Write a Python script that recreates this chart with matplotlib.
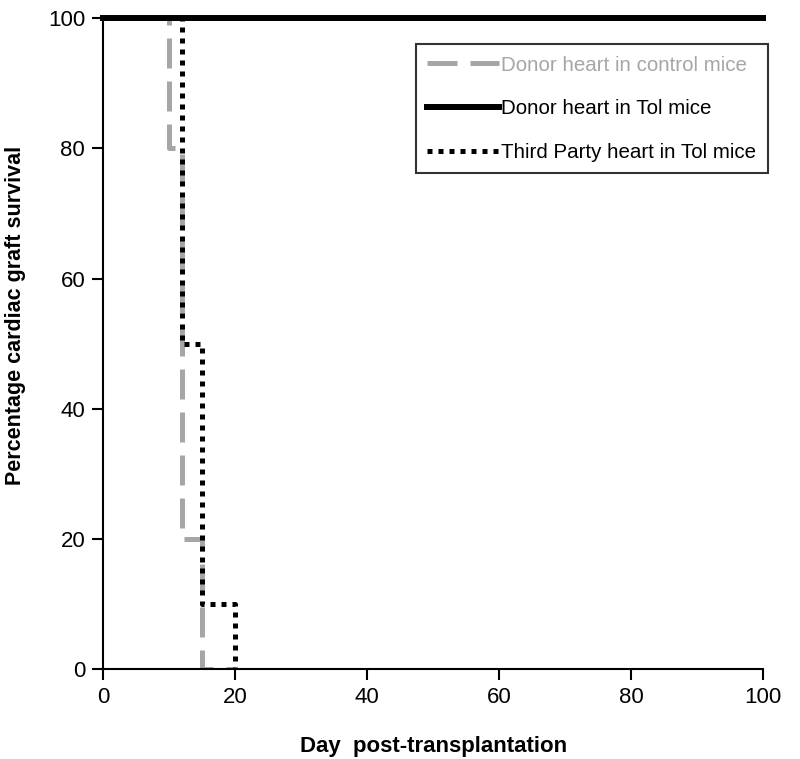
import matplotlib.pyplot as plt

# survival step data (day, percent)
ctrl_day = [0, 10, 12, 15, 20]
ctrl_pct = [100, 80, 20, 0, 0]

tol_day = [0, 100]
tol_pct = [100, 100]

third_day = [0, 12, 15, 20, 20]
third_pct = [100, 50, 10, 0, 0]

plt.rcParams['font.family'] = ['Liberation Sans', 'DejaVu Sans']

fig = plt.figure(figsize=(8, 7.59), dpi=100)
ax = fig.add_axes([0.129, 0.1186, 0.825, 0.8574])

ax.step(ctrl_day, ctrl_pct, where='post', color='#a6a6a6', lw=3.6,
        dashes=(6, 2.6), label='Donor heart in control mice')
ax.step(tol_day, tol_pct, where='post', color='black', lw=4.3,
        label='Donor heart in Tol mice', clip_on=False)
ax.step(third_day, third_pct, where='post', color='black', lw=3.6,
        dashes=(1, 1.2), label='Third Party heart in Tol mice')

ax.set_xlim(0, 100)
ax.set_ylim(0, 100)
ax.set_xticks([0, 20, 40, 60, 80, 100])
ax.set_yticks([0, 20, 40, 60, 80, 100])
ax.spines['top'].set_visible(False)
ax.spines['right'].set_visible(False)
ax.spines['left'].set_linewidth(1.5)
ax.spines['bottom'].set_linewidth(1.5)
ax.tick_params(direction='out', length=8, width=1.5, labelsize=16, pad=5)

ax.set_xlabel('Day  post-transplantation', fontsize=16, fontweight='bold', labelpad=20)
ax.set_ylabel('Percentage cardiac graft survival', fontsize=15.5, fontweight='bold')
ax.yaxis.set_label_coords(-0.117, 0.544)

leg = ax.legend(loc='upper left', bbox_to_anchor=(0.474, 0.96), fontsize=14.8,
                frameon=True, fancybox=False, edgecolor='black',
                handlelength=3.5, handletextpad=0.1, borderpad=0.55,
                labelspacing=1.2, borderaxespad=0)
leg.get_frame().set_linewidth(1.5)
leg.get_texts()[0].set_color('#a6a6a6')

fig.savefig('out.png')
